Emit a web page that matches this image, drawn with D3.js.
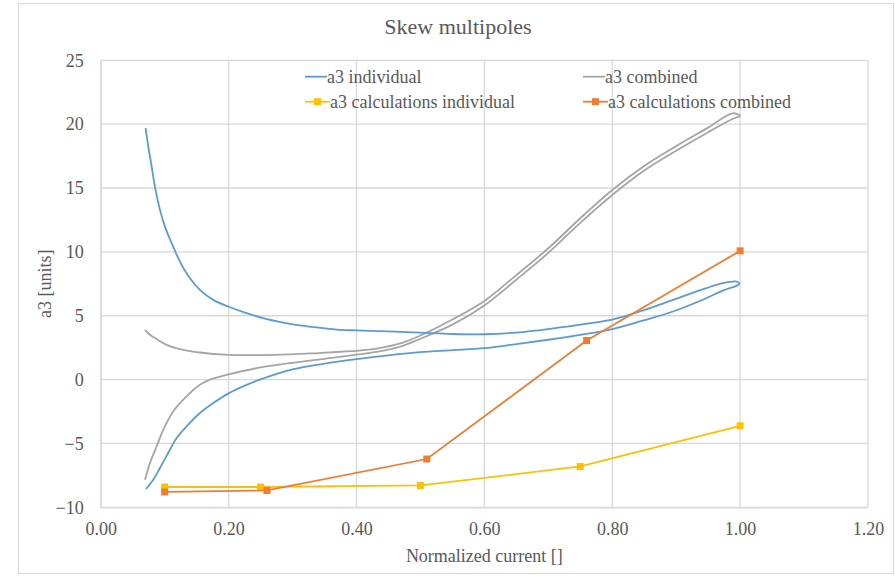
<!DOCTYPE html>
<html>
<head>
<meta charset="utf-8">
<script src="https://cdn.jsdelivr.net/npm/d3@7"></script>
<style>
  html, body { margin: 0; padding: 0; background: #fff; }
  svg { display: block; }
  svg text { font-family: "Liberation Serif", "Times New Roman", Times, "DejaVu Serif", serif; }
</style>
</head>
<body>
<svg id="chart" width="895" height="576"></svg>
<script>
// Axis ticks
const xTicks = [0, 0.2, 0.4, 0.6, 0.8, 1.0, 1.2];
const yTicks = [-10, -5, 0, 5, 10, 15, 20, 25];

// a3 individual: measured loop, ramp up then ramp down
const a3IndividualUp = [
  [0.0708, -8.57], [0.0822, -7.84], [0.0927, -6.92], [0.1083, -5.49], [0.1187, -4.58],
  [0.1342, -3.67], [0.1552, -2.62], [0.1761, -1.84], [0.2005, -1.06], [0.2281, -0.41],
  [0.2489, 0.0], [0.300, 0.8], [0.350, 1.25], [0.400, 1.6], [0.450, 1.9],
  [0.500, 2.15], [0.550, 2.3], [0.600, 2.46], [0.650, 2.78], [0.700, 3.12],
  [0.750, 3.5], [0.800, 3.95], [0.843, 4.55], [0.895, 5.33], [0.947, 6.37],
  [0.973, 6.97], [0.994, 7.34], [0.999, 7.5]
];
const a3IndividualDown = [
  [0.994, 7.68], [0.973, 7.55], [0.947, 7.16], [0.895, 6.24], [0.843, 5.33],
  [0.800, 4.7], [0.750, 4.3], [0.700, 3.95], [0.650, 3.68], [0.600, 3.55],
  [0.550, 3.57], [0.500, 3.67], [0.450, 3.77], [0.400, 3.85], [0.374, 3.9],
  [0.3375, 4.08], [0.296, 4.37], [0.260, 4.73], [0.228, 5.2], [0.1994, 5.72],
  [0.176, 6.24], [0.1552, 7.03], [0.1395, 7.94], [0.1239, 9.24], [0.111, 10.68],
  [0.1005, 11.98], [0.0927, 13.29], [0.0848, 15.11], [0.0797, 16.67], [0.0744, 18.24],
  [0.0702, 19.68]
];

// a3 combined: measured loop, ramp up then ramp down
const a3CombinedUp = [
  [0.0693, -7.84], [0.0770, -6.54], [0.0874, -5.24], [0.0978, -3.93], [0.1134, -2.5],
  [0.1342, -1.32], [0.1552, -0.41], [0.1708, 0.0], [0.200, 0.4], [0.244, 0.9],
  [0.296, 1.29], [0.358, 1.68], [0.400, 1.95], [0.436, 2.2], [0.470, 2.6],
  [0.500, 3.2], [0.550, 4.3], [0.600, 5.8], [0.650, 7.82], [0.700, 9.92],
  [0.750, 12.27], [0.800, 14.45], [0.850, 16.37], [0.900, 17.92], [0.950, 19.37],
  [0.988, 20.4], [1.000, 20.65]
];
const a3CombinedDown = [
  [0.988, 20.85], [0.950, 19.73], [0.900, 18.28], [0.850, 16.73], [0.800, 14.85],
  [0.750, 12.63], [0.700, 10.28], [0.650, 8.18], [0.600, 6.16], [0.550, 4.7],
  [0.500, 3.45], [0.470, 2.85], [0.436, 2.46], [0.400, 2.25], [0.374, 2.18],
  [0.330, 2.05], [0.270, 1.94], [0.200, 1.94], [0.155, 2.12], [0.124, 2.39],
  [0.103, 2.72], [0.0875, 3.17], [0.077, 3.51], [0.0692, 3.9]
];

// Calculated values
const calcIndividualX = [0.10, 0.25, 0.50, 0.75, 1.00];
const calcIndividualY = [-8.41, -8.41, -8.29, -6.8, -3.62];
const calcCombinedX = [0.10, 0.26, 0.51, 0.76, 1.00];
const calcCombinedY = [-8.8, -8.68, -6.22, 3.06, 10.08];

const seriesNames = ["a3 individual", "a3 combined", "a3 calculations individual", "a3 calculations combined"];
const colors = { blue: "#5b9bd5", gray: "#a5a5a5", yellow: "#ffc000", orange: "#ed7d31" };

const svg = d3.select("#chart");
const textColor = "#595959";
const gridColor = "#d9d9d9";
const serif = "'Liberation Serif', 'Times New Roman', Times, 'DejaVu Serif', serif";

// chart frame
svg.append("rect")
  .attr("x", 18.5).attr("y", 3.5).attr("width", 875).attr("height", 570)
  .attr("fill", "#fff").attr("stroke", gridColor).attr("stroke-width", 1);

const plot = { left: 100.7, right: 868, top: 60.3, bottom: 507.3 };
const x = d3.scaleLinear().domain([0, 1.2]).range([plot.left, plot.right]);
const y = d3.scaleLinear().domain([-10, 25]).range([plot.bottom, plot.top]);

// gridlines
const grid = svg.append("g");
grid.selectAll("line.h").data(yTicks).join("line")
  .attr("x1", plot.left).attr("x2", plot.right)
  .attr("y1", d => y(d)).attr("y2", d => y(d))
  .attr("stroke", gridColor).attr("stroke-width", 1.3);
grid.selectAll("line.v").data(xTicks).join("line")
  .attr("x1", d => x(d)).attr("x2", d => x(d))
  .attr("y1", plot.top).attr("y2", plot.bottom)
  .attr("stroke", gridColor).attr("stroke-width", 1.3);

// axes
const xAxis = svg.append("g")
  .attr("transform", `translate(0,${plot.bottom})`)
  .call(d3.axisBottom(x).tickValues(xTicks).tickFormat(d3.format(".2f")).tickSize(0).tickPadding(15));
const yAxis = svg.append("g")
  .attr("transform", `translate(${plot.left},0)`)
  .call(d3.axisLeft(y).tickValues(yTicks).tickFormat(d3.format("d")).tickSize(0).tickPadding(17));
[xAxis, yAxis].forEach(a => {
  a.attr("font-family", serif).attr("font-size", 18);
  a.select(".domain").attr("stroke", gridColor).attr("stroke-width", 1.3);
  a.selectAll("text").attr("fill", textColor);
});

// titles
svg.append("text").attr("x", 458).attr("y", 34).attr("text-anchor", "middle")
  .attr("font-family", serif).attr("font-size", 22)
  .attr("fill", textColor).text("Skew multipoles");
svg.append("text").attr("x", (plot.left + plot.right) / 2).attr("y", 562).attr("text-anchor", "middle")
  .attr("font-family", serif).attr("font-size", 18)
  .attr("fill", textColor).text("Normalized current []");
svg.append("text")
  .attr("transform", `translate(51,${(plot.top + plot.bottom) / 2}) rotate(-90)`)
  .attr("text-anchor", "middle").attr("fill", textColor)
  .attr("font-family", serif).attr("font-size", 18)
  .text("a3 [units]");

// smoothed measurement loops
const smooth = d3.line().x(d => x(d[0])).y(d => y(d[1])).curve(d3.curveCatmullRom.alpha(0.5));
const loops = [
  { pts: a3CombinedUp.concat(a3CombinedDown), color: colors.gray },
  { pts: a3IndividualUp.concat(a3IndividualDown), color: colors.blue }
];
svg.append("g").selectAll("path").data(loops).join("path")
  .attr("d", d => smooth(d.pts))
  .attr("fill", "none").attr("stroke", d => d.color).attr("stroke-width", 1.8)
  .attr("stroke-linejoin", "round");

// calculated series with square markers
const straight = d3.line().x(d => x(d[0])).y(d => y(d[1]));
const calcSeries = [
  { pts: d3.zip(calcIndividualX, calcIndividualY), color: colors.yellow },
  { pts: d3.zip(calcCombinedX, calcCombinedY), color: colors.orange }
];
const cg = svg.append("g").selectAll("g").data(calcSeries).join("g");
cg.append("path").attr("d", d => straight(d.pts))
  .attr("fill", "none").attr("stroke", d => d.color).attr("stroke-width", 1.8);
cg.selectAll("rect").data(d => d.pts.map(p => ({ p, color: d.color }))).join("rect")
  .attr("x", d => x(d.p[0]) - 3.5).attr("y", d => y(d.p[1]) - 3.5)
  .attr("width", 7).attr("height", 7).attr("fill", d => d.color);

// legend
const legendItems = [
  { name: seriesNames[0], color: colors.blue, marker: false, lx: 305, ly: 76.7 },
  { name: seriesNames[1], color: colors.gray, marker: false, lx: 583, ly: 76.7 },
  { name: seriesNames[2], color: colors.yellow, marker: true, lx: 305, ly: 101.7 },
  { name: seriesNames[3], color: colors.orange, marker: true, lx: 583, ly: 101.7 }
];
const lg = svg.append("g").selectAll("g").data(legendItems).join("g")
  .attr("transform", d => `translate(${d.lx},${d.ly})`);
lg.append("line").attr("x1", 0).attr("x2", d => d.marker ? 25 : 22)
  .attr("stroke", d => d.color).attr("stroke-width", 1.8);
lg.filter(d => d.marker).append("rect")
  .attr("x", 9).attr("y", -3.5).attr("width", 7).attr("height", 7).attr("fill", d => d.color);
lg.append("text").attr("x", d => d.marker ? 25 : 22).attr("dy", "0.33em")
  .attr("font-family", serif).attr("font-size", 18)
  .attr("fill", textColor).text(d => d.name);
</script>
</body>
</html>
